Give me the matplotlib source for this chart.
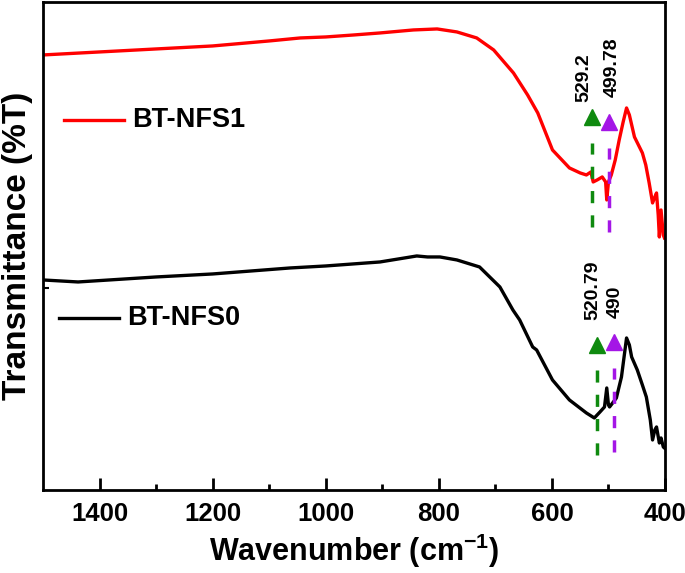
import numpy as np
import matplotlib
matplotlib.use("Agg")
import matplotlib.pyplot as plt

plt.rcParams['font.family'] = ['Liberation Sans', 'DejaVu Sans']
plt.rcParams['font.weight'] = 'bold'
plt.rcParams['mathtext.fontset'] = 'custom'
plt.rcParams['mathtext.rm'] = 'Liberation Sans:bold'
plt.rcParams['mathtext.bf'] = 'Liberation Sans:bold'

# spectra (arbitrary transmittance units)
wn_nfs1 = [1500, 1400, 1300, 1200, 1100, 1045, 1000, 950, 904, 845, 803, 768, 733, 703,
           668, 643, 625, 599, 569, 550, 539, 531, 527, 520, 511, 505, 503, 500, 495,
           488, 481, 474, 468, 463, 454, 447, 440, 434, 428, 422, 418, 415, 412, 410,
           407, 403, 401]
t_nfs1 = [435, 438, 441, 444, 449, 452, 453, 455, 457, 460, 461, 458, 452, 440,
          417, 395, 377, 340, 322, 317, 315, 318, 308, 310, 313, 308, 290, 308, 315,
          330, 350, 368, 382, 375, 353, 345, 337, 325, 307, 287, 293, 297, 275, 253,
          280, 255, 252]

wn_nfs0 = [1500, 1438, 1300, 1200, 1063, 1000, 904, 839, 820, 798, 768, 728, 692, 669,
           657, 634, 627, 599, 569, 539, 525, 515, 507, 503, 500, 498, 486, 477, 468,
           463, 459, 449, 440, 433, 426, 422, 418, 415, 410, 407, 403, 401]
t_nfs0 = [210, 208, 213, 216, 222, 224, 228, 234, 233, 233, 230, 223, 203, 180,
          170, 143, 140, 110, 90, 77, 72, 78, 83, 102, 85, 83, 92, 113, 152,
          145, 133, 120, 105, 93, 70, 50, 60, 63, 47, 52, 43, 42]

# peak markers: position, label, dashed span, arrow height, text base
pk_nfs1_wn = [529.2, 499.78]
pk_nfs1_lab = ['529.2', '499.78']
pk_nfs1_span = [(263, 347), (258, 342)]
pk_nfs1_tri = [373, 368]
pk_nfs1_txt = [388, 393]

pk_nfs0_wn = [520.79, 490]
pk_nfs0_lab = ['520.79', '490']
pk_nfs0_span = [(35, 120), (38, 122)]
pk_nfs0_tri = [145, 148]
pk_nfs0_txt = [170, 172]

pk_colors = ['#0f8a0f', '#a416e6']

fig = plt.figure(figsize=(6.85, 5.73), dpi=100)
ax = fig.add_axes([0.0628, 0.1449, 0.908, 0.8517])

ax.plot(wn_nfs1, t_nfs1, color='#ff0000', lw=2.4)
ax.plot(wn_nfs0, t_nfs0, color='black', lw=2.4)

# horizontal nudges (points) so the rotated labels sit side by side
nudges = [[-6, 2.5], [-2.5, 1]]
for k, (wns, labs, spans, tris, txts) in enumerate([
        (pk_nfs1_wn, pk_nfs1_lab, pk_nfs1_span, pk_nfs1_tri, pk_nfs1_txt),
        (pk_nfs0_wn, pk_nfs0_lab, pk_nfs0_span, pk_nfs0_tri, pk_nfs0_txt)]):
    for j, (w, lab, sp, tr, tx, c) in enumerate(zip(wns, labs, spans, tris, txts, pk_colors)):
        ax.plot([w, w], sp, color=c, lw=2.5, ls=(0, (3.5, 3.5)))
        ax.plot(w, tr, marker='^', ms=11, color=c, mec=c)
        ax.annotate(lab, (w, tx), xytext=(nudges[k][j], 0), textcoords='offset points',
                    rotation=90, ha='center', va='bottom',
                    fontsize=14, fontweight='bold')

# legend-like labels placed next to each curve
ax.plot([0.034, 0.131], [0.758, 0.758], color='#ff0000', lw=2.4, transform=ax.transAxes)
ax.text(0.144, 0.758, 'BT-NFS1', transform=ax.transAxes, va='center', ha='left',
        fontsize=19.5, fontweight='bold')
ax.plot([0.026, 0.122], [0.352, 0.352], color='black', lw=2.4, transform=ax.transAxes)
ax.text(0.136, 0.352, 'BT-NFS0', transform=ax.transAxes, va='center', ha='left',
        fontsize=19.5, fontweight='bold')

ax.set_xlim(1500, 400)
ax.set_ylim(0, 488)
ax.set_xticks([1400, 1200, 1000, 800, 600, 400])
ax.set_xticks([1300, 1100, 900, 700, 500], minor=True)
ax.set_yticks([202])
ax.set_yticklabels([])
ax.tick_params(axis='x', which='major', direction='in', length=9, width=2,
               labelsize=18.5, pad=9)
ax.tick_params(axis='x', which='minor', direction='in', length=4, width=2)
ax.tick_params(axis='y', direction='in', length=4, width=1.5)
for lbl in ax.get_xticklabels():
    lbl.set_fontweight('bold')
for s in ax.spines.values():
    s.set_linewidth(2)

ax.set_xlabel('Wavenumber (cm$^{-1}$)', fontsize=22, fontweight='bold', labelpad=4)
ax.set_ylabel('Transmittance (%T)', fontsize=24, fontweight='bold',
              ha='center', va='center')
ax.yaxis.set_label_coords(-0.041, 0.5)

fig.savefig('out.png', dpi=100)
